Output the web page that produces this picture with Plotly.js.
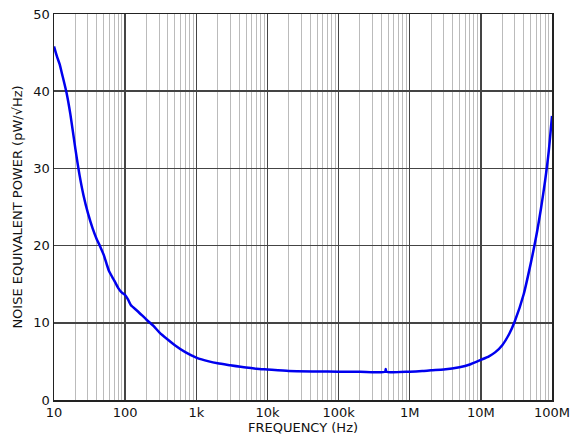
<!DOCTYPE html>
<html>
<head>
<meta charset="utf-8">
<script src="https://cdn.plot.ly/plotly-3.0.1.min.js"></script>
<style>html,body{margin:0;padding:0;background:#fff;}#chart{width:571px;height:439px;}</style>
</head>
<body>
<div id="chart"></div>
<script>
const freq = [10, 11, 12, 13, 15, 17, 20, 23, 26, 30, 35, 40, 45, 50, 55, 60, 70, 80, 90, 100, 110, 120, 150, 200, 250, 300, 400, 500, 700, 1000, 1500, 2000, 3000, 5000, 7000, 1e4, 2e4, 5e4, 1e5, 2e5, 4.5e5, 4.6e5, 4.7e5, 1e6, 1.5e6, 2e6, 3e6, 5e6, 7e6, 1e7, 1.3e7, 1.6e7, 2e7, 2.5e7, 3e7, 4e7, 5e7, 6e7, 7e7, 8e7, 9e7, 1e8];
const nep = [45.8, 44.5, 43.5, 42.2, 39.8, 37, 32.5, 29, 26.5, 24.2, 22.2, 20.8, 19.8, 18.8, 17.6, 16.6, 15.5, 14.5, 13.9, 13.6, 13, 12.3, 11.5, 10.4, 9.6, 8.8, 7.8, 7.1, 6.2, 5.5, 5.0, 4.75, 4.5, 4.2, 4.05, 3.95, 3.75, 3.7, 3.67, 3.65, 3.65, 4.0, 3.65, 3.67, 3.75, 3.85, 3.95, 4.25, 4.6, 5.2, 5.66, 6.2, 7.1, 8.55, 10.2, 13.7, 17.6, 21.2, 24.8, 28.4, 32.2, 36.8];
const xTickVals = [10, 100, 1e3, 1e4, 1e5, 1e6, 1e7, 1e8];
const xTickText = ['10', '100', '1k', '10k', '100k', '1M', '10M', '100M'];
const yTickVals = [0, 10, 20, 30, 40, 50];

const minorVals = [];
for (let d = 10; d < 1e8; d *= 10) for (let m = 2; m <= 9; m++) minorVals.push(d * m);

const font = {family: 'DejaVu Sans, sans-serif', size: 13, color: '#111'};
Plotly.newPlot('chart', [{
  x: freq, y: nep, type: 'scatter', mode: 'lines',
  line: {color: '#0000ee', width: 2.5, shape: 'spline', smoothing: 0.6},
  hoverinfo: 'none'
}], {
  width: 571, height: 439,
  margin: {l: 54, r: 19, t: 14, b: 39},
  paper_bgcolor: '#fff', plot_bgcolor: '#fff',
  showlegend: false,
  font: font,
  xaxis: {
    type: 'log', range: [1, 8],
    tickmode: 'array', tickvals: xTickVals, ticktext: xTickText,
    ticks: '', showgrid: true, gridcolor: '#444', gridwidth: 1.5,
    minor: {tickmode: 'array', tickvals: minorVals, showgrid: true, gridcolor: '#bbb', gridwidth: 1, ticks: ''},
    showline: true, linecolor: '#222', linewidth: 1.5, mirror: true,
    zeroline: false, tickfont: font,
    title: {text: 'FREQUENCY (Hz)', font: font, standoff: 4}
  },
  yaxis: {
    range: [0, 50], tickmode: 'array', tickvals: yTickVals,
    ticks: '', showgrid: true, gridcolor: '#444', gridwidth: 1.5,
    showline: true, linecolor: '#222', linewidth: 1.5, mirror: true,
    zeroline: false, tickfont: font,
    title: {text: 'NOISE EQUIVALENT POWER (pW/√Hz)', font: font, standoff: 8}
  }
}, {staticPlot: true});
</script>
</body>
</html>
